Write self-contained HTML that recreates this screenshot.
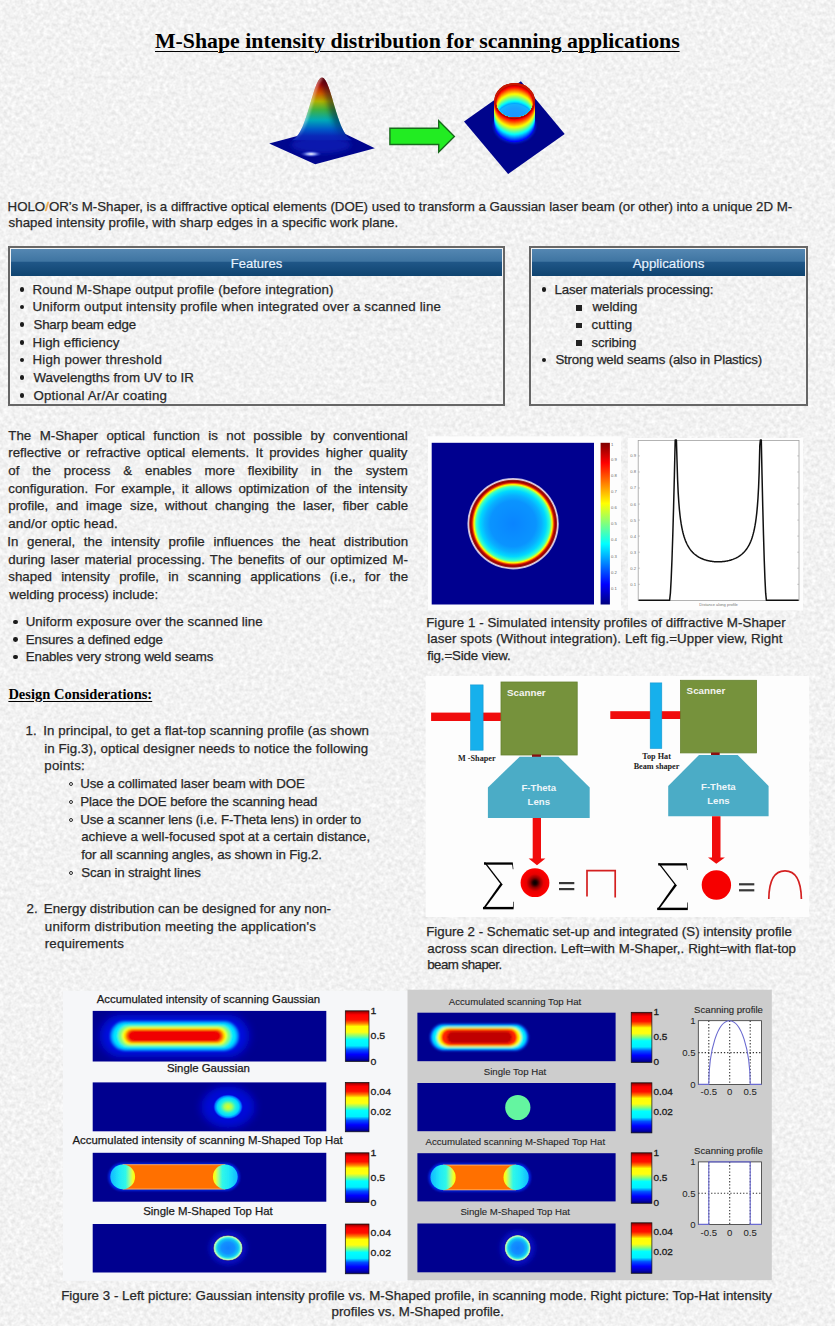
<!DOCTYPE html>
<html><head><meta charset="utf-8"><title>M-Shape</title><style>
*{margin:0;padding:0;box-sizing:border-box}
html,body{width:835px;height:1326px;overflow:hidden}
body{position:relative;background:#f0f0f0;font-family:"Liberation Sans",sans-serif;color:#333}
.l{position:absolute;white-space:nowrap;color:#282828;-webkit-text-stroke:0.25px #282828}
.j{white-space:normal;text-align:justify;text-align-last:justify}
.c{text-align:center}
.title{position:absolute;white-space:nowrap;font-family:"Liberation Serif",serif;font-weight:bold;color:#000;text-decoration:underline;text-decoration-thickness:1.4px;text-underline-offset:0.15em}
.dot{position:absolute;border-radius:50%}
.box{position:absolute;border:2px solid #666;box-shadow:inset 0 0 0 1px #f4f4f4}
.hdr{position:absolute;background:linear-gradient(#5487b2 0%,#3f75a2 45%,#1f5687 50%,#0f4470 100%)}
.hdrt{color:#e6f2ff;text-align:center;-webkit-text-stroke:0.2px #e6f2ff}
svg{position:absolute;overflow:visible}
</style></head><body>
<svg width="835" height="1326" style="left:0;top:0"><filter id="nz" x="0" y="0" width="100%" height="100%"><feTurbulence type="fractalNoise" baseFrequency="0.25" numOctaves="3" seed="7"/><feColorMatrix type="matrix" values="0.32 0 0 0 0.728  0.32 0 0 0 0.728  0.32 0 0 0 0.728  0 0 0 0 1"/></filter><rect width="835" height="1326" filter="url(#nz)"/></svg>
<svg width="835" height="1326" viewBox="0 0 835 1326" style="left:0;top:0" font-family="Liberation Sans"><defs><linearGradient id="jetv" x1="0" y1="0" x2="0" y2="1"><stop offset="0.000" stop-color="#7f0000"/><stop offset="0.062" stop-color="#bf0000"/><stop offset="0.125" stop-color="#ff0000"/><stop offset="0.188" stop-color="#ff3f00"/><stop offset="0.250" stop-color="#ff7f00"/><stop offset="0.312" stop-color="#ffbf00"/><stop offset="0.375" stop-color="#ffff00"/><stop offset="0.438" stop-color="#bfff3f"/><stop offset="0.500" stop-color="#7fff7f"/><stop offset="0.562" stop-color="#3fffbf"/><stop offset="0.625" stop-color="#00ffff"/><stop offset="0.688" stop-color="#00bfff"/><stop offset="0.750" stop-color="#007fff"/><stop offset="0.812" stop-color="#003fff"/><stop offset="0.875" stop-color="#0000ff"/><stop offset="0.938" stop-color="#0000bf"/><stop offset="1.000" stop-color="#00007f"/></linearGradient><linearGradient id="jetc" x1="0" y1="0" x2="0" y2="1"><stop offset="0" stop-color="#700000"/><stop offset="0.035" stop-color="#c00000"/><stop offset="0.08" stop-color="#ff0000"/><stop offset="0.18" stop-color="#ff1000"/><stop offset="0.25" stop-color="#ff8000"/><stop offset="0.31" stop-color="#ffff00"/><stop offset="0.42" stop-color="#ffff10"/><stop offset="0.5" stop-color="#80ff80"/><stop offset="0.57" stop-color="#00ffff"/><stop offset="0.69" stop-color="#00f0ff"/><stop offset="0.77" stop-color="#0050ff"/><stop offset="0.86" stop-color="#0000ff"/><stop offset="0.94" stop-color="#0000c0"/><stop offset="1" stop-color="#000070"/></linearGradient><linearGradient id="bell" x1="0" y1="77" x2="0" y2="142.5" gradientUnits="userSpaceOnUse"><stop offset="0" stop-color="#7a0000"/><stop offset="0.12" stop-color="#b80a00"/><stop offset="0.25" stop-color="#d05a00"/><stop offset="0.37" stop-color="#b0b000"/><stop offset="0.5" stop-color="#40b040"/><stop offset="0.66" stop-color="#00a8b8"/><stop offset="0.8" stop-color="#0058c8"/><stop offset="0.9" stop-color="#0a28b8"/><stop offset="1" stop-color="#0a1cb4"/></linearGradient><linearGradient id="bellmg" x1="0" y1="120" x2="0" y2="141" gradientUnits="userSpaceOnUse"><stop offset="0" stop-color="#fff"/><stop offset="1" stop-color="#000"/></linearGradient><mask id="bellmask" maskUnits="userSpaceOnUse" x="250" y="60" width="150" height="120"><rect x="250" y="60" width="150" height="120" fill="url(#bellmg)"/></mask><linearGradient id="bellsh" x1="296" y1="0" x2="347" y2="0" gradientUnits="userSpaceOnUse"><stop offset="0" stop-color="#fff" stop-opacity="0.35"/><stop offset="0.3" stop-color="#fff" stop-opacity="0"/><stop offset="0.6" stop-color="#000" stop-opacity="0"/><stop offset="1" stop-color="#000" stop-opacity="0.5"/></linearGradient><radialGradient id="glint"><stop offset="0" stop-color="#ffffff"/><stop offset="0.4" stop-color="#a0b0ff" stop-opacity="0.8"/><stop offset="1" stop-color="#2030d0" stop-opacity="0"/></radialGradient><linearGradient id="ringin" x1="0" y1="84" x2="0" y2="118" gradientUnits="userSpaceOnUse"><stop offset="0" stop-color="#c01000"/><stop offset="0.15" stop-color="#e83000"/><stop offset="0.24" stop-color="#ff8000"/><stop offset="0.32" stop-color="#ffd000"/><stop offset="0.4" stop-color="#a0ff60"/><stop offset="0.48" stop-color="#20f0f0"/><stop offset="0.58" stop-color="#10c0ff"/><stop offset="0.75" stop-color="#20a8ff"/><stop offset="1" stop-color="#2898ff"/></linearGradient><radialGradient id="spot1" cx="513.1" cy="523.7" r="45.7" gradientUnits="userSpaceOnUse"><stop offset="0" stop-color="#0a84ff"/><stop offset="0.5" stop-color="#0a94ff"/><stop offset="0.62" stop-color="#08b0ff"/><stop offset="0.72" stop-color="#00d8ff"/><stop offset="0.8" stop-color="#30ffd0"/><stop offset="0.83" stop-color="#90ff70"/><stop offset="0.855" stop-color="#ffff00"/><stop offset="0.875" stop-color="#ff9000"/><stop offset="0.9" stop-color="#d01000"/><stop offset="0.93" stop-color="#900000"/><stop offset="0.95" stop-color="#a02020"/><stop offset="0.97" stop-color="#e8d0dc"/><stop offset="1" stop-color="#b0b0e0"/></radialGradient><radialGradient id="mspot"><stop offset="0" stop-color="#000"/><stop offset="0.15" stop-color="#200000"/><stop offset="0.35" stop-color="#900000"/><stop offset="0.6" stop-color="#e80000"/><stop offset="1" stop-color="#ff0000"/></radialGradient><radialGradient id="gspot"><stop offset="0" stop-color="#e0ff20"/><stop offset="0.25" stop-color="#a0ff60"/><stop offset="0.5" stop-color="#20f0e0"/><stop offset="0.72" stop-color="#00d8ff"/><stop offset="0.88" stop-color="#0070ff"/><stop offset="1" stop-color="#0020ff" stop-opacity="0"/></radialGradient><radialGradient id="mspot3"><stop offset="0" stop-color="#1080ff"/><stop offset="0.45" stop-color="#1290ff"/><stop offset="0.7" stop-color="#10c0f8"/><stop offset="0.82" stop-color="#40f0e0"/><stop offset="0.9" stop-color="#b8ffc8"/><stop offset="0.96" stop-color="#a0d0a0"/><stop offset="1" stop-color="#503070"/></radialGradient><linearGradient id="capL" x1="0" y1="0" x2="1" y2="0"><stop offset="0" stop-color="#10b8ff"/><stop offset="0.35" stop-color="#20e8f8"/><stop offset="0.62" stop-color="#30f8e8"/><stop offset="0.78" stop-color="#a0ff90"/><stop offset="0.9" stop-color="#f0ff30"/><stop offset="1" stop-color="#ffff00"/></linearGradient><linearGradient id="capR" x1="1" y1="0" x2="0" y2="0"><stop offset="0" stop-color="#10b8ff"/><stop offset="0.35" stop-color="#20e8f8"/><stop offset="0.62" stop-color="#30f8e8"/><stop offset="0.78" stop-color="#a0ff90"/><stop offset="0.9" stop-color="#f0ff30"/><stop offset="1" stop-color="#ffff00"/></linearGradient><filter id="b1" x="-50%" y="-50%" width="200%" height="200%"><feGaussianBlur stdDeviation="1.2"/></filter><filter id="b2" x="-50%" y="-50%" width="200%" height="200%"><feGaussianBlur stdDeviation="2.5"/></filter><filter id="b3" x="-50%" y="-50%" width="200%" height="200%"><feGaussianBlur stdDeviation="4"/></filter><filter id="b05" x="-50%" y="-50%" width="200%" height="200%"><feGaussianBlur stdDeviation="0.6"/></filter></defs><polygon points="269.2,143.4 331,127 374.8,148.2 315.2,164.2" fill="#00068e"/><ellipse cx="321" cy="145" rx="30" ry="8.5" fill="#0a1cb4" opacity="0.85" filter="url(#b2)"/><path d="M292.00,140.21 L292.75,139.79 L293.50,139.32 L294.25,138.78 L295.00,138.17 L295.75,137.48 L296.50,136.70 L297.25,135.83 L298.00,134.85 L298.75,133.78 L299.50,132.59 L300.25,131.29 L301.00,129.87 L301.75,128.34 L302.50,126.68 L303.25,124.90 L304.00,123.00 L304.75,120.99 L305.50,118.86 L306.25,116.64 L307.00,114.33 L307.75,111.94 L308.50,109.48 L309.25,106.97 L310.00,104.43 L310.75,101.89 L311.50,99.35 L312.25,96.84 L313.00,94.39 L313.75,92.02 L314.50,89.76 L315.25,87.62 L316.00,85.64 L316.75,83.83 L317.50,82.21 L318.25,80.81 L319.00,79.64 L319.75,78.71 L320.50,78.04 L321.25,77.64 L322.00,77.50 L322.75,77.64 L323.50,78.04 L324.25,78.71 L325.00,79.64 L325.75,80.81 L326.50,82.21 L327.25,83.83 L328.00,85.64 L328.75,87.62 L329.50,89.76 L330.25,92.02 L331.00,94.39 L331.75,96.84 L332.50,99.35 L333.25,101.89 L334.00,104.43 L334.75,106.97 L335.50,109.48 L336.25,111.94 L337.00,114.33 L337.75,116.64 L338.50,118.86 L339.25,120.99 L340.00,123.00 L340.75,124.90 L341.50,126.68 L342.25,128.34 L343.00,129.87 L343.75,131.29 L344.50,132.59 L345.25,133.78 L346.00,134.85 L346.75,135.83 L347.50,136.70 L348.25,137.48 L349.00,138.17 L349.75,138.78 L350.50,139.32 L351.25,139.79 L352.00,140.21 Z" fill="url(#bell)"/><clipPath id="bellclip"><path d="M292.00,140.21 L292.75,139.79 L293.50,139.32 L294.25,138.78 L295.00,138.17 L295.75,137.48 L296.50,136.70 L297.25,135.83 L298.00,134.85 L298.75,133.78 L299.50,132.59 L300.25,131.29 L301.00,129.87 L301.75,128.34 L302.50,126.68 L303.25,124.90 L304.00,123.00 L304.75,120.99 L305.50,118.86 L306.25,116.64 L307.00,114.33 L307.75,111.94 L308.50,109.48 L309.25,106.97 L310.00,104.43 L310.75,101.89 L311.50,99.35 L312.25,96.84 L313.00,94.39 L313.75,92.02 L314.50,89.76 L315.25,87.62 L316.00,85.64 L316.75,83.83 L317.50,82.21 L318.25,80.81 L319.00,79.64 L319.75,78.71 L320.50,78.04 L321.25,77.64 L322.00,77.50 L322.75,77.64 L323.50,78.04 L324.25,78.71 L325.00,79.64 L325.75,80.81 L326.50,82.21 L327.25,83.83 L328.00,85.64 L328.75,87.62 L329.50,89.76 L330.25,92.02 L331.00,94.39 L331.75,96.84 L332.50,99.35 L333.25,101.89 L334.00,104.43 L334.75,106.97 L335.50,109.48 L336.25,111.94 L337.00,114.33 L337.75,116.64 L338.50,118.86 L339.25,120.99 L340.00,123.00 L340.75,124.90 L341.50,126.68 L342.25,128.34 L343.00,129.87 L343.75,131.29 L344.50,132.59 L345.25,133.78 L346.00,134.85 L346.75,135.83 L347.50,136.70 L348.25,137.48 L349.00,138.17 L349.75,138.78 L350.50,139.32 L351.25,139.79 L352.00,140.21 Z"/></clipPath><g clip-path="url(#bellclip)" mask="url(#bellmask)"><path d="M322.00,77.50 L322.75,77.64 L323.50,78.04 L324.25,78.71 L325.00,79.64 L325.75,80.81 L326.50,82.21 L327.25,83.83 L328.00,85.64 L328.75,87.62 L329.50,89.76 L330.25,92.02 L331.00,94.39 L331.75,96.84 L332.50,99.35 L333.25,101.89 L334.00,104.43 L334.75,106.97 L335.50,109.48 L336.25,111.94 L337.00,114.33 L337.75,116.64 L338.50,118.86 L339.25,120.99 L340.00,123.00 L340.75,124.90 L341.50,126.68 L342.25,128.34 L343.00,129.87 L343.75,131.29 L344.50,132.59 L345.25,133.78 L346.00,134.85 L346.75,135.83 L347.50,136.70 L348.25,137.48 L349.00,138.17 L349.75,138.78 L350.50,139.32 L351.25,139.79 L352.00,140.21" fill="none" stroke="#000020" stroke-opacity="0.45" stroke-width="12" filter="url(#b2)"/><path d="M292.00,140.21 L292.75,139.79 L293.50,139.32 L294.25,138.78 L295.00,138.17 L295.75,137.48 L296.50,136.70 L297.25,135.83 L298.00,134.85 L298.75,133.78 L299.50,132.59 L300.25,131.29 L301.00,129.87 L301.75,128.34 L302.50,126.68 L303.25,124.90 L304.00,123.00 L304.75,120.99 L305.50,118.86 L306.25,116.64 L307.00,114.33 L307.75,111.94 L308.50,109.48 L309.25,106.97 L310.00,104.43 L310.75,101.89 L311.50,99.35 L312.25,96.84 L313.00,94.39 L313.75,92.02 L314.50,89.76 L315.25,87.62 L316.00,85.64 L316.75,83.83 L317.50,82.21 L318.25,80.81 L319.00,79.64 L319.75,78.71 L320.50,78.04 L321.25,77.64 L322.00,77.50" fill="none" stroke="#ffffff" stroke-opacity="0.35" stroke-width="5" filter="url(#b1)"/></g><ellipse cx="311" cy="154" rx="11" ry="3.3" fill="url(#glint)"/><polygon points="389.9,128.2 438.7,128.2 438.7,120.8 454.4,136.4 438.7,152 438.7,144.5 389.9,144.5" fill="#22ec22" stroke="#186a1c" stroke-width="1.4" stroke-linejoin="miter"/><polygon points="520.9,81.2 564.7,134 508.1,174.1 464,121.4" fill="#00048c"/><ellipse cx="514.6" cy="125.6" rx="21.2" ry="17.6" fill="#0030ff" opacity="0.6" filter="url(#b1)"/><ellipse cx="514.6" cy="124.6" rx="20.2" ry="17.6" fill="#0000f9"/><ellipse cx="514.6" cy="123.6" rx="20.2" ry="17.6" fill="#001eff"/><ellipse cx="514.6" cy="122.6" rx="20.2" ry="17.6" fill="#0041ff"/><ellipse cx="514.6" cy="121.6" rx="20.2" ry="17.6" fill="#0064ff"/><ellipse cx="514.6" cy="120.6" rx="20.2" ry="17.6" fill="#0087ff"/><ellipse cx="514.6" cy="119.6" rx="20.2" ry="17.6" fill="#00abff"/><ellipse cx="514.6" cy="118.6" rx="20.2" ry="17.6" fill="#00ceff"/><ellipse cx="514.6" cy="117.6" rx="20.2" ry="17.6" fill="#00f1ff"/><ellipse cx="514.6" cy="116.6" rx="20.2" ry="17.6" fill="#16ffe8"/><ellipse cx="514.6" cy="115.6" rx="20.2" ry="17.6" fill="#39ffc5"/><ellipse cx="514.6" cy="114.6" rx="20.2" ry="17.6" fill="#5cffa2"/><ellipse cx="514.6" cy="113.6" rx="20.2" ry="17.6" fill="#7fff7f"/><ellipse cx="514.6" cy="112.6" rx="20.2" ry="17.6" fill="#a3ff5b"/><ellipse cx="514.6" cy="111.6" rx="20.2" ry="17.6" fill="#c6ff38"/><ellipse cx="514.6" cy="110.6" rx="20.2" ry="17.6" fill="#e9ff15"/><ellipse cx="514.6" cy="109.6" rx="20.2" ry="17.6" fill="#fff000"/><ellipse cx="514.6" cy="108.6" rx="20.2" ry="17.6" fill="#ffcd00"/><ellipse cx="514.6" cy="107.6" rx="20.2" ry="17.6" fill="#ffaa00"/><ellipse cx="514.6" cy="106.6" rx="20.2" ry="17.6" fill="#ff8700"/><ellipse cx="514.6" cy="105.6" rx="20.2" ry="17.6" fill="#ff6300"/><ellipse cx="514.6" cy="104.6" rx="20.2" ry="17.6" fill="#ff4000"/><ellipse cx="514.6" cy="103.6" rx="20.2" ry="17.6" fill="#ff1d00"/><ellipse cx="514.6" cy="102.6" rx="20.2" ry="17.6" fill="#f90000"/><ellipse cx="514.6" cy="101.6" rx="20.2" ry="17.6" fill="#a80000"/><ellipse cx="514.6" cy="100.6" rx="20.2" ry="17.6" fill="#a80000"/><ellipse cx="514.6" cy="100.6" rx="20.2" ry="17.6" fill="#c81800"/><clipPath id="inclip"><ellipse cx="514.6" cy="101.0" rx="18.4" ry="16.1"/></clipPath><g clip-path="url(#inclip)"><ellipse cx="514.6" cy="101.0" rx="18.4" ry="16.1" fill="#c60000"/><ellipse cx="514.6" cy="102.0" rx="18.4" ry="16.1" fill="#eb0000"/><ellipse cx="514.6" cy="103.0" rx="18.4" ry="16.1" fill="#ff1000"/><ellipse cx="514.6" cy="104.0" rx="18.4" ry="16.1" fill="#ff3400"/><ellipse cx="514.6" cy="105.0" rx="18.4" ry="16.1" fill="#ff5800"/><ellipse cx="514.6" cy="106.0" rx="18.4" ry="16.1" fill="#ff7d00"/><ellipse cx="514.6" cy="107.0" rx="18.4" ry="16.1" fill="#ffa100"/><ellipse cx="514.6" cy="108.0" rx="18.4" ry="16.1" fill="#ffc500"/><ellipse cx="514.6" cy="109.0" rx="18.4" ry="16.1" fill="#ffea00"/><ellipse cx="514.6" cy="110.0" rx="18.4" ry="16.1" fill="#efff0f"/><ellipse cx="514.6" cy="111.0" rx="18.4" ry="16.1" fill="#cbff33"/><ellipse cx="514.6" cy="112.0" rx="18.4" ry="16.1" fill="#a7ff57"/><ellipse cx="514.6" cy="113.0" rx="18.4" ry="16.1" fill="#82ff7c"/><ellipse cx="514.6" cy="114.0" rx="18.4" ry="16.1" fill="#5effa0"/><ellipse cx="514.6" cy="115.0" rx="18.4" ry="16.1" fill="#3affc4"/><ellipse cx="514.6" cy="116.0" rx="18.4" ry="16.1" fill="#16ffe8"/><ellipse cx="514.6" cy="117.0" rx="18.4" ry="16.1" fill="#00f0ff"/><ellipse cx="514.6" cy="118.0" rx="18.4" ry="16.1" fill="#00ccff"/><ellipse cx="514.6" cy="119.0" rx="18.4" ry="16.1" fill="#00a8ff"/><radialGradient id="floorg" cx="514.6" cy="121.0" r="18.4" gradientUnits="userSpaceOnUse"><stop offset="0" stop-color="#2090ff"/><stop offset="0.7" stop-color="#1aa0ff"/><stop offset="1" stop-color="#10b8ff"/></radialGradient><ellipse cx="514.6" cy="120.0" rx="18.4" ry="16.1" fill="url(#floorg)"/></g><rect x="428" y="436.3" width="193" height="174" fill="#fdfdfd"/><rect x="628" y="438" width="175" height="172.4" fill="#fdfdfd"/><rect x="431.7" y="442.8" width="162.3" height="161.7" fill="#00008f"/><circle cx="513.1" cy="523.7" r="45.7" fill="url(#spot1)"/><rect x="600.6" y="442.8" width="9.3" height="161.7" fill="url(#jetv)"/><text x="611" y="589.8" font-size="4.2" fill="#666">0.1</text><text x="611" y="573.7" font-size="4.2" fill="#666">0.2</text><text x="611" y="557.5" font-size="4.2" fill="#666">0.3</text><text x="611" y="541.3" font-size="4.2" fill="#666">0.4</text><text x="611" y="525.1" font-size="4.2" fill="#666">0.5</text><text x="611" y="509.0" font-size="4.2" fill="#666">0.6</text><text x="611" y="492.8" font-size="4.2" fill="#666">0.7</text><text x="611" y="476.6" font-size="4.2" fill="#666">0.8</text><text x="611" y="460.5" font-size="4.2" fill="#666">0.9</text><text x="611" y="446" font-size="4.2" fill="#666">1</text><rect x="638.2" y="440.4" width="160.8" height="160" fill="#fff" stroke="#a0a0a0" stroke-width="0.8"/><text x="636" y="585.7" font-size="4.2" fill="#707070" text-anchor="end">0.1</text><line x1="638.2" y1="584.3" x2="640" y2="584.3" stroke="#999" stroke-width="0.5"/><line x1="797.2" y1="584.3" x2="799" y2="584.3" stroke="#999" stroke-width="0.5"/><text x="636" y="569.6" font-size="4.2" fill="#707070" text-anchor="end">0.2</text><line x1="638.2" y1="568.2" x2="640" y2="568.2" stroke="#999" stroke-width="0.5"/><line x1="797.2" y1="568.2" x2="799" y2="568.2" stroke="#999" stroke-width="0.5"/><text x="636" y="553.6" font-size="4.2" fill="#707070" text-anchor="end">0.3</text><line x1="638.2" y1="552.2" x2="640" y2="552.2" stroke="#999" stroke-width="0.5"/><line x1="797.2" y1="552.2" x2="799" y2="552.2" stroke="#999" stroke-width="0.5"/><text x="636" y="537.5" font-size="4.2" fill="#707070" text-anchor="end">0.4</text><line x1="638.2" y1="536.1" x2="640" y2="536.1" stroke="#999" stroke-width="0.5"/><line x1="797.2" y1="536.1" x2="799" y2="536.1" stroke="#999" stroke-width="0.5"/><text x="636" y="521.5" font-size="4.2" fill="#707070" text-anchor="end">0.5</text><line x1="638.2" y1="520.1" x2="640" y2="520.1" stroke="#999" stroke-width="0.5"/><line x1="797.2" y1="520.1" x2="799" y2="520.1" stroke="#999" stroke-width="0.5"/><text x="636" y="505.5" font-size="4.2" fill="#707070" text-anchor="end">0.6</text><line x1="638.2" y1="504.1" x2="640" y2="504.1" stroke="#999" stroke-width="0.5"/><line x1="797.2" y1="504.1" x2="799" y2="504.1" stroke="#999" stroke-width="0.5"/><text x="636" y="489.4" font-size="4.2" fill="#707070" text-anchor="end">0.7</text><line x1="638.2" y1="488.0" x2="640" y2="488.0" stroke="#999" stroke-width="0.5"/><line x1="797.2" y1="488.0" x2="799" y2="488.0" stroke="#999" stroke-width="0.5"/><text x="636" y="473.4" font-size="4.2" fill="#707070" text-anchor="end">0.8</text><line x1="638.2" y1="472.0" x2="640" y2="472.0" stroke="#999" stroke-width="0.5"/><line x1="797.2" y1="472.0" x2="799" y2="472.0" stroke="#999" stroke-width="0.5"/><text x="636" y="457.3" font-size="4.2" fill="#707070" text-anchor="end">0.9</text><line x1="638.2" y1="455.9" x2="640" y2="455.9" stroke="#999" stroke-width="0.5"/><line x1="797.2" y1="455.9" x2="799" y2="455.9" stroke="#999" stroke-width="0.5"/><text x="718.6" y="605.6" font-size="4" fill="#777" text-anchor="middle">Distance along profile</text><path d="M638.60,600.30 L669.60,600.30 L670.40,593.17 L671.20,578.69 L672.00,558.95 L672.80,534.78 L673.60,506.67 L674.40,474.96 L675.20,439.90 L675.80,439.90 L676.40,439.90 L677.00,460.15 L677.60,479.85 L678.20,492.89 L678.80,502.32 L679.40,509.54 L680.00,515.28 L680.60,519.99 L681.20,523.94 L681.80,527.30 L682.40,530.21 L683.00,532.76 L683.60,535.01 L684.20,537.02 L684.80,538.82 L685.40,540.45 L686.00,541.92 L686.60,543.27 L687.20,544.51 L687.80,545.65 L688.40,546.70 L689.00,547.68 L689.60,548.58 L690.20,549.42 L690.80,550.21 L691.40,550.94 L692.00,551.63 L692.60,552.27 L693.20,552.88 L693.80,553.45 L694.40,553.99 L695.00,554.49 L695.60,554.97 L696.20,555.42 L696.80,555.85 L697.40,556.25 L698.00,556.63 L698.60,556.99 L699.20,557.34 L699.80,557.66 L700.40,557.97 L701.00,558.26 L701.60,558.53 L702.20,558.79 L702.80,559.04 L703.40,559.27 L704.00,559.49 L704.60,559.69 L705.20,559.89 L705.80,560.07 L706.40,560.25 L707.00,560.41 L707.60,560.56 L708.20,560.70 L708.80,560.83 L709.40,560.96 L710.00,561.07 L710.60,561.18 L711.20,561.27 L711.80,561.36 L712.40,561.44 L713.00,561.51 L713.60,561.58 L714.20,561.63 L714.80,561.68 L715.40,561.72 L716.00,561.75 L716.60,561.78 L717.20,561.79 L717.80,561.80 L718.40,561.80 L719.00,561.80 L719.60,561.78 L720.20,561.76 L720.80,561.74 L721.40,561.70 L722.00,561.66 L722.60,561.60 L723.20,561.55 L723.80,561.48 L724.40,561.40 L725.00,561.32 L725.60,561.23 L726.20,561.13 L726.80,561.02 L727.40,560.90 L728.00,560.77 L728.60,560.63 L729.20,560.49 L729.80,560.33 L730.40,560.16 L731.00,559.98 L731.60,559.79 L732.20,559.59 L732.80,559.38 L733.40,559.15 L734.00,558.91 L734.60,558.66 L735.20,558.39 L735.80,558.11 L736.40,557.81 L737.00,557.50 L737.60,557.17 L738.20,556.82 L738.80,556.45 L739.40,556.05 L740.00,555.64 L740.60,555.20 L741.20,554.74 L741.80,554.24 L742.40,553.72 L743.00,553.17 L743.60,552.58 L744.20,551.96 L744.80,551.29 L745.40,550.58 L746.00,549.82 L746.60,549.01 L747.20,548.14 L747.80,547.20 L748.40,546.19 L749.00,545.09 L749.60,543.91 L750.20,542.61 L750.80,541.20 L751.40,539.65 L752.00,537.94 L752.60,536.04 L753.20,533.92 L753.80,531.52 L754.40,528.81 L755.00,525.68 L755.60,522.05 L756.20,517.75 L756.80,512.56 L757.40,506.15 L758.00,497.95 L758.60,486.95 L759.20,471.15 L759.80,445.63 L760.40,439.90 L761.30,439.90 L762.03,474.96 L762.76,506.67 L763.49,534.78 L764.21,558.95 L764.94,578.69 L765.67,593.17 L766.40,600.30 L798.60,600.30" fill="none" stroke="#111" stroke-width="1.5" stroke-linejoin="round"/><rect x="425.6" y="676" width="383.6" height="241" fill="#fdfdfd"/><rect x="431.1" y="712.6" width="69.9" height="8.4" fill="#f00c0c"/><rect x="470.6" y="684.9" width="12.5" height="65.3" fill="#16b0ec" stroke="#1498d0" stroke-width="0.6"/><rect x="501" y="682" width="76.2" height="73.0" fill="#76923c" stroke="#66822f" stroke-width="0.8"/><text x="507" y="695.5" font-size="9.8" font-weight="bold" fill="#f4f4f0">Scanner</text><rect x="610.3" y="711.2" width="70.7" height="7.8" fill="#f00c0c"/><rect x="650.2" y="682.9" width="11.6" height="65.6" fill="#16b0ec" stroke="#1498d0" stroke-width="0.6"/><rect x="680.6" y="680.3" width="75.9" height="72.6" fill="#76923c" stroke="#66822f" stroke-width="0.8"/><text x="686.6" y="693.8" font-size="9.8" font-weight="bold" fill="#f4f4f0">Scanner</text><rect x="532" y="754.5" width="9" height="3" fill="#8b1010"/><rect x="711" y="752.5" width="8.7" height="3" fill="#8b1010"/><polygon points="519.7,756.7 558.5,756.7 589.7,787.4 589.7,818 487.9,818 487.9,787.4" fill="#4bacc6"/><polygon points="699,755 737.7,755 768.6,785.9 768.6,816.2 668.2,816.2 668.2,785.9" fill="#4bacc6"/><text x="538.8" y="791.2" font-size="9.6" font-weight="bold" fill="#eef6fa" text-anchor="middle">F-Theta</text><text x="538.8" y="805.2" font-size="9.6" font-weight="bold" fill="#eef6fa" text-anchor="middle">Lens</text><text x="718.4" y="790.2" font-size="9.6" font-weight="bold" fill="#eef6fa" text-anchor="middle">F-Theta</text><text x="718.4" y="804.4" font-size="9.6" font-weight="bold" fill="#eef6fa" text-anchor="middle">Lens</text><polygon points="532.7,818 541,818 541,858.5 545.4,858.5 537,865.3 528.6,858.5 532.7,858.5" fill="#f00c0c"/><polygon points="712,816.2 720.5,816.2 720.5,857.5 724.9,857.5 716.3,863.8 708,857.5 712,857.5" fill="#f00c0c"/><text x="476.8" y="760.6" font-size="8.2" font-family="Liberation Serif" font-weight="bold" fill="#222" text-anchor="middle">M -Shaper</text><text x="656.6" y="758.8" font-size="8.2" font-family="Liberation Serif" font-weight="bold" fill="#222" text-anchor="middle">Top Hat</text><text x="656.5" y="769.1" font-size="8.2" font-family="Liberation Serif" font-weight="bold" fill="#222" text-anchor="middle">Beam shaper</text><g fill="#000" stroke="none"><rect x="484" y="862.4" width="28.8" height="2.3"/><rect x="483" y="906.9" width="30.6" height="2.4"/><polygon points="484,862.6 485.6,862.6 502.6,884.6 501.4,885.2"/><polygon points="500.4,883.4 502.6,884.6 485.8,907.2 482.8,908.6"/><polygon points="512,863.5 512.9,863.5 513.4,869.2 512.8,869.2"/><polygon points="512.9,907.5 513.6,907.5 513.8,901.8 513.2,901.8"/></g><g fill="#000" stroke="none"><rect x="658.2" y="863.1999999999999" width="28.8" height="2.3"/><rect x="657.2" y="907.6999999999999" width="30.6" height="2.4"/><polygon points="658.2,863.4 659.8000000000001,863.4 676.8000000000001,885.4 675.6,886.0"/><polygon points="674.6,884.1999999999999 676.8000000000001,885.4 660.0,908.0 657.0,909.4"/><polygon points="686.2,864.3 687.1,864.3 687.6,870.0 687.0,870.0"/><polygon points="687.1,908.3 687.8000000000001,908.3 688.0,902.5999999999999 687.4000000000001,902.5999999999999"/></g><circle cx="535" cy="882.7" r="14.4" fill="url(#mspot)"/><circle cx="716.4" cy="885" r="14.7" fill="#f60000"/><rect x="559" y="882" width="15.3" height="2.2" fill="#383838"/><rect x="559" y="888" width="15.3" height="2.2" fill="#383838"/><rect x="739" y="883.2" width="15.3" height="2.2" fill="#383838"/><rect x="739" y="889.2" width="15.3" height="2.2" fill="#383838"/><path d="M587,896.5 L587,870.7 L615.2,870.7 L615.2,897.5" fill="none" stroke="#d42020" stroke-width="1.7"/><path d="M768.8,899 C769,876 777,870.8 785,870.8 C793,870.8 801,876 801.4,899" fill="none" stroke="#d42020" stroke-width="1.7"/><rect x="63" y="990.8" width="345" height="290" fill="#f6f7f9"/><rect x="407.5" y="989.7" width="364.3" height="290.5" fill="#cdcdcd"/><text x="208.4" y="1002.8" font-size="11.4" fill="#1a1a1a" stroke="#1a1a1a" stroke-width="0.25" text-anchor="middle">Accumulated intensity of scanning Gaussian</text><text x="208.4" y="1072.2" font-size="11.4" fill="#1a1a1a" stroke="#1a1a1a" stroke-width="0.25" text-anchor="middle">Single Gaussian</text><text x="207.6" y="1143.5" font-size="11.4" fill="#1a1a1a" stroke="#1a1a1a" stroke-width="0.25" text-anchor="middle">Accumulated intensity of scanning M-Shaped Top Hat</text><text x="208.0" y="1214.7" font-size="11.4" fill="#1a1a1a" stroke="#1a1a1a" stroke-width="0.25" text-anchor="middle">Single M-Shaped Top Hat</text><rect x="92.7" y="1010.9" width="233.6" height="50.6" fill="#00008f"/><rect x="92.7" y="1082.4" width="233.6" height="48.9" fill="#00008f"/><rect x="92.7" y="1152.8" width="233.6" height="48.9" fill="#00008f"/><rect x="92.7" y="1224.0" width="233.6" height="48.5" fill="#00008f"/><clipPath id="cg1"><rect x="92.7" y="1010.9" width="233.6" height="50.6"/></clipPath><g clip-path="url(#cg1)"><rect x="100.0" y="1015.0" width="149.0" height="42.0" rx="21.0" fill="#0010e0" filter="url(#b3)"/><g filter="url(#b1)"><rect x="110.0" y="1021.0" width="129.0" height="30.0" rx="15.0" fill="#0090ff" /><rect x="113.0" y="1023.2" width="123.0" height="25.5" rx="12.8" fill="#00e8ff" /><rect x="118.0" y="1025.5" width="113.0" height="21.0" rx="10.5" fill="#80ff80" /><rect x="122.0" y="1027.2" width="105.0" height="17.5" rx="8.8" fill="#ffff00" /><rect x="125.0" y="1029.0" width="99.0" height="14.0" rx="7.0" fill="#ff8000" /><rect x="127.5" y="1030.2" width="94.0" height="11.6" rx="5.8" fill="#f00000" /></g></g><clipPath id="cg2"><rect x="92.7" y="1082.4" width="233.6" height="48.9"/></clipPath><g clip-path="url(#cg2)"><ellipse cx="228" cy="1107" rx="27" ry="21" fill="#0008f0" opacity="0.75" filter="url(#b3)"/></g><ellipse cx="228.1" cy="1106.8" rx="15" ry="12.5" fill="url(#gspot)"/><rect x="108.3" y="1162.9" width="131.4" height="27.9" rx="13.9" fill="#0030ff" filter="url(#b1)" opacity="0.8"/><rect x="122.7" y="1164.4" width="102.5" height="24.9" fill="#ff7000"/><path d="M122.7,1164.7 L225.3,1164.7 M122.7,1189.0 L225.3,1189.0" stroke="#ffc080" stroke-width="0.7"/><circle cx="122.7" cy="1176.8" r="12.4" fill="url(#capL)" filter="url(#b05)"/><circle cx="225.3" cy="1176.8" r="12.4" fill="url(#capR)" filter="url(#b05)"/><ellipse cx="228" cy="1248" rx="19" ry="17" fill="#0818e0" opacity="0.6" filter="url(#b2)"/><ellipse cx="228" cy="1248" rx="14.7" ry="12.7" fill="url(#mspot3)"/><rect x="345.3" y="1010.8" width="23.7" height="50.700000000000045" fill="url(#jetc)" stroke="#111" stroke-width="0.7"/><text x="370.6" y="1014.3" font-size="10.5" fill="#1a1a1a" stroke="#1a1a1a" stroke-width="0.3" transform="translate(0 1010.8) scale(1 0.86) translate(0 -1010.8)">1</text><text x="370.6" y="1039.6" font-size="10.5" fill="#1a1a1a" stroke="#1a1a1a" stroke-width="0.3" transform="translate(0 1036.2) scale(1 0.86) translate(0 -1036.2)">0.5</text><text x="370.6" y="1065.0" font-size="10.5" fill="#1a1a1a" stroke="#1a1a1a" stroke-width="0.3" transform="translate(0 1061.5) scale(1 0.86) translate(0 -1061.5)">0</text><rect x="345.3" y="1082.4" width="23.7" height="49.399999999999864" fill="url(#jetc)" stroke="#111" stroke-width="0.7"/><text x="370.6" y="1095.3" font-size="10.5" fill="#1a1a1a" stroke="#1a1a1a" stroke-width="0.3" transform="translate(0 1091.8) scale(1 0.86) translate(0 -1091.8)">0.04</text><text x="370.6" y="1115.0" font-size="10.5" fill="#1a1a1a" stroke="#1a1a1a" stroke-width="0.3" transform="translate(0 1111.5) scale(1 0.86) translate(0 -1111.5)">0.02</text><rect x="345.3" y="1152.8" width="23.7" height="49.700000000000045" fill="url(#jetc)" stroke="#111" stroke-width="0.7"/><text x="370.6" y="1156.3" font-size="10.5" fill="#1a1a1a" stroke="#1a1a1a" stroke-width="0.3" transform="translate(0 1152.8) scale(1 0.86) translate(0 -1152.8)">1</text><text x="370.6" y="1181.1" font-size="10.5" fill="#1a1a1a" stroke="#1a1a1a" stroke-width="0.3" transform="translate(0 1177.7) scale(1 0.86) translate(0 -1177.7)">0.5</text><text x="370.6" y="1206.0" font-size="10.5" fill="#1a1a1a" stroke="#1a1a1a" stroke-width="0.3" transform="translate(0 1202.5) scale(1 0.86) translate(0 -1202.5)">0</text><rect x="345.3" y="1224.0" width="23.7" height="49.799999999999955" fill="url(#jetc)" stroke="#111" stroke-width="0.7"/><text x="370.6" y="1236.9" font-size="10.5" fill="#1a1a1a" stroke="#1a1a1a" stroke-width="0.3" transform="translate(0 1233.5) scale(1 0.86) translate(0 -1233.5)">0.04</text><text x="370.6" y="1256.8" font-size="10.5" fill="#1a1a1a" stroke="#1a1a1a" stroke-width="0.3" transform="translate(0 1253.4) scale(1 0.86) translate(0 -1253.4)">0.02</text><text x="515.0" y="1004.8" font-size="9.65" fill="#262626" stroke="#262626" stroke-width="0.1" text-anchor="middle">Accumulated scanning Top Hat</text><text x="515.0" y="1075.1" font-size="9.65" fill="#262626" stroke="#262626" stroke-width="0.1" text-anchor="middle">Single Top Hat</text><text x="515.3" y="1144.5" font-size="9.65" fill="#262626" stroke="#262626" stroke-width="0.1" text-anchor="middle">Accumulated scanning M-Shaped Top Hat</text><text x="515.2" y="1214.8" font-size="9.65" fill="#262626" stroke="#262626" stroke-width="0.1" text-anchor="middle">Single M-Shaped Top Hat</text><rect x="417.4" y="1012.7" width="198.2" height="48.5" fill="#00008f"/><rect x="417.4" y="1083.0" width="198.2" height="48.2" fill="#00008f"/><rect x="417.4" y="1153.2" width="198.2" height="48.2" fill="#00008f"/><rect x="417.4" y="1223.5" width="198.2" height="48.8" fill="#00008f"/><g filter="url(#b1)"><rect x="430.0" y="1023.7" width="98.5" height="27.0" rx="13.5" fill="#0060ff" /><rect x="432.5" y="1025.5" width="93.5" height="23.5" rx="11.8" fill="#00f0ff" /><rect x="437.0" y="1027.2" width="84.5" height="20.0" rx="10.0" fill="#ffff00" /><rect x="441.0" y="1028.7" width="76.5" height="17.0" rx="8.5" fill="#ff2000" /><rect x="447.0" y="1031.2" width="65.0" height="12.0" rx="6.0" fill="#c00000" /></g><circle cx="517.8" cy="1107.5" r="12.6" fill="#64f5a0"/><rect x="428.5" y="1163.3" width="102.3" height="28.3" rx="14.1" fill="#0030ff" filter="url(#b1)" opacity="0.8"/><rect x="443.1" y="1164.8" width="73.0" height="25.3" fill="#ff7000"/><path d="M443.1,1165.1 L516.1,1165.1 M443.1,1189.8 L516.1,1189.8" stroke="#ffc080" stroke-width="0.7"/><circle cx="443.1" cy="1177.4" r="12.6" fill="url(#capL)" filter="url(#b05)"/><circle cx="516.1" cy="1177.4" r="12.6" fill="url(#capR)" filter="url(#b05)"/><circle cx="517.7" cy="1248" r="17.5" fill="#0818e0" opacity="0.6" filter="url(#b2)"/><circle cx="517.7" cy="1248" r="13.1" fill="url(#mspot3)"/><rect x="631.2" y="1012.3" width="20.7" height="50.100000000000136" fill="url(#jetc)" stroke="#111" stroke-width="0.7"/><text x="653.5" y="1015.6" font-size="10" fill="#1a1a1a" stroke="#1a1a1a" stroke-width="0.3" transform="translate(0 1012.3) scale(1 0.86) translate(0 -1012.3)">1</text><text x="653.5" y="1040.6" font-size="10" fill="#1a1a1a" stroke="#1a1a1a" stroke-width="0.3" transform="translate(0 1037.3) scale(1 0.86) translate(0 -1037.3)">0.5</text><text x="653.5" y="1065.7" font-size="10" fill="#1a1a1a" stroke="#1a1a1a" stroke-width="0.3" transform="translate(0 1062.4) scale(1 0.86) translate(0 -1062.4)">0</text><rect x="631.2" y="1082.8" width="20.7" height="50.100000000000136" fill="url(#jetc)" stroke="#111" stroke-width="0.7"/><text x="653.5" y="1095.4" font-size="10" fill="#1a1a1a" stroke="#1a1a1a" stroke-width="0.3" transform="translate(0 1092.1) scale(1 0.86) translate(0 -1092.1)">0.04</text><text x="653.5" y="1115.7" font-size="10" fill="#1a1a1a" stroke="#1a1a1a" stroke-width="0.3" transform="translate(0 1112.4) scale(1 0.86) translate(0 -1112.4)">0.02</text><rect x="631.2" y="1152.8" width="20.7" height="50.5" fill="url(#jetc)" stroke="#111" stroke-width="0.7"/><text x="653.5" y="1156.1" font-size="10" fill="#1a1a1a" stroke="#1a1a1a" stroke-width="0.3" transform="translate(0 1152.8) scale(1 0.86) translate(0 -1152.8)">1</text><text x="653.5" y="1181.3" font-size="10" fill="#1a1a1a" stroke="#1a1a1a" stroke-width="0.3" transform="translate(0 1178.0) scale(1 0.86) translate(0 -1178.0)">0.5</text><text x="653.5" y="1206.6" font-size="10" fill="#1a1a1a" stroke="#1a1a1a" stroke-width="0.3" transform="translate(0 1203.3) scale(1 0.86) translate(0 -1203.3)">0</text><rect x="631.2" y="1222.8" width="20.7" height="50.5" fill="url(#jetc)" stroke="#111" stroke-width="0.7"/><text x="653.5" y="1235.4" font-size="10" fill="#1a1a1a" stroke="#1a1a1a" stroke-width="0.3" transform="translate(0 1232.1) scale(1 0.86) translate(0 -1232.1)">0.04</text><text x="653.5" y="1255.9" font-size="10" fill="#1a1a1a" stroke="#1a1a1a" stroke-width="0.3" transform="translate(0 1252.6) scale(1 0.86) translate(0 -1252.6)">0.02</text><text x="728.5" y="1013.4" font-size="9.6" fill="#262626" stroke="#262626" stroke-width="0.1" text-anchor="middle">Scanning profile</text><rect x="698.3" y="1020.7" width="63.2" height="63.7" fill="#fff" stroke="#333" stroke-width="0.8"/><line x1="708.8" y1="1020.7" x2="708.8" y2="1084.4" stroke="#333" stroke-width="1.1" stroke-dasharray="1.3 1.9"/><line x1="729.7" y1="1020.7" x2="729.7" y2="1084.4" stroke="#333" stroke-width="1.1" stroke-dasharray="1.3 1.9"/><line x1="750.2" y1="1020.7" x2="750.2" y2="1084.4" stroke="#333" stroke-width="1.1" stroke-dasharray="1.3 1.9"/><line x1="698.3" y1="1052.6" x2="761.5" y2="1052.6" stroke="#333" stroke-width="1.1" stroke-dasharray="1.3 1.9"/><path d="M698.3,1084.4 L708.8,1084.4 A20.7,63.7 0 0 1 750.2,1084.4 L761.5,1084.4" fill="none" stroke="#6a6ad0" stroke-width="1.1"/><text x="695.5" y="1024.1" font-size="9.6" fill="#222" text-anchor="end">1</text><text x="695.5" y="1056.0" font-size="9.6" fill="#222" text-anchor="end">0.5</text><text x="695.5" y="1087.8" font-size="9.6" fill="#222" text-anchor="end">0</text><text x="708.8" y="1095.4" font-size="9.6" fill="#222" text-anchor="middle">-0.5</text><text x="729.7" y="1095.4" font-size="9.6" fill="#222" text-anchor="middle">0</text><text x="750.2" y="1095.4" font-size="9.6" fill="#222" text-anchor="middle">0.5</text><text x="728.5" y="1153.9" font-size="9.6" fill="#262626" stroke="#262626" stroke-width="0.1" text-anchor="middle">Scanning profile</text><rect x="698.3" y="1161.9" width="63.2" height="62.5" fill="#fff" stroke="#333" stroke-width="0.8"/><line x1="708.8" y1="1161.9" x2="708.8" y2="1224.4" stroke="#333" stroke-width="1.1" stroke-dasharray="1.3 1.9"/><line x1="729.7" y1="1161.9" x2="729.7" y2="1224.4" stroke="#333" stroke-width="1.1" stroke-dasharray="1.3 1.9"/><line x1="750.2" y1="1161.9" x2="750.2" y2="1224.4" stroke="#333" stroke-width="1.1" stroke-dasharray="1.3 1.9"/><line x1="698.3" y1="1193.2" x2="761.5" y2="1193.2" stroke="#333" stroke-width="1.1" stroke-dasharray="1.3 1.9"/><path d="M698.3,1224.4 L708.8,1224.4 L708.8,1161.9 L750.2,1161.9 L750.2,1224.4 L761.5,1224.4" fill="none" stroke="#6a6ad0" stroke-width="1.1"/><text x="695.5" y="1165.3" font-size="9.6" fill="#222" text-anchor="end">1</text><text x="695.5" y="1196.6" font-size="9.6" fill="#222" text-anchor="end">0.5</text><text x="695.5" y="1227.8" font-size="9.6" fill="#222" text-anchor="end">0</text><text x="708.8" y="1235.8" font-size="9.6" fill="#222" text-anchor="middle">-0.5</text><text x="729.7" y="1235.8" font-size="9.6" fill="#222" text-anchor="middle">0</text><text x="750.2" y="1235.8" font-size="9.6" fill="#222" text-anchor="middle">0.5</text></svg>
<div class="title" style="left:155px;top:30.54px;font-size:21.8px;line-height:21.8px">M-Shape intensity distribution for scanning applications</div>
<div class="l" style="left:7.60px;top:199.54px;font-size:13.3px;line-height:13.3px;letter-spacing:-0.021px;">HOLO<span style="color:#eba43c;-webkit-text-stroke:0.5px #eba43c">/</span>OR’s M-Shaper, is a diffractive optical elements (DOE) used to transform a Gaussian laser beam (or other) into a unique 2D M-</div>
<div class="l" style="left:8.60px;top:216.24px;font-size:13.3px;line-height:13.3px;letter-spacing:0.012px;">shaped intensity profile, with sharp edges in a specific work plane.</div>
<div class="box" style="left:8px;top:246px;width:497px;height:160px"></div>
<div class="hdr" style="left:11px;top:249px;width:491px;height:27px"></div>
<div class="l hdrt" style="left:11.00px;top:257.00px;font-size:13px;line-height:13px;width:491.0px;">Features</div>
<div class="dot" style="left:19.6px;top:286.9px;width:4.8px;height:4.8px;background:#1a1a1a"></div>
<div class="l" style="left:32.50px;top:282.64px;font-size:13.3px;line-height:13.3px;letter-spacing:0.158px;">Round M-Shape output profile (before integration)</div>
<div class="dot" style="left:19.6px;top:304.6px;width:4.8px;height:4.8px;background:#1a1a1a"></div>
<div class="l" style="left:32.50px;top:300.34px;font-size:13.3px;line-height:13.3px;letter-spacing:0.171px;">Uniform output intensity profile when integrated over a scanned line</div>
<div class="dot" style="left:19.6px;top:322.3px;width:4.8px;height:4.8px;background:#1a1a1a"></div>
<div class="l" style="left:33.50px;top:318.04px;font-size:13.3px;line-height:13.3px;letter-spacing:-0.223px;">Sharp beam edge</div>
<div class="dot" style="left:19.6px;top:340.0px;width:4.8px;height:4.8px;background:#1a1a1a"></div>
<div class="l" style="left:32.50px;top:335.74px;font-size:13.3px;line-height:13.3px;letter-spacing:0.044px;">High efficiency</div>
<div class="dot" style="left:19.6px;top:357.7px;width:4.8px;height:4.8px;background:#1a1a1a"></div>
<div class="l" style="left:32.50px;top:353.44px;font-size:13.3px;line-height:13.3px;letter-spacing:0.192px;">High power threshold</div>
<div class="dot" style="left:19.6px;top:375.4px;width:4.8px;height:4.8px;background:#1a1a1a"></div>
<div class="l" style="left:33.50px;top:371.14px;font-size:13.3px;line-height:13.3px;letter-spacing:-0.012px;">Wavelengths from UV to IR</div>
<div class="dot" style="left:19.6px;top:393.1px;width:4.8px;height:4.8px;background:#1a1a1a"></div>
<div class="l" style="left:33.50px;top:388.84px;font-size:13.3px;line-height:13.3px;letter-spacing:0.191px;">Optional Ar/Ar coating</div>
<div class="box" style="left:529px;top:246px;width:279px;height:160px"></div>
<div class="hdr" style="left:532px;top:249px;width:273px;height:27px"></div>
<div class="l hdrt" style="left:532.00px;top:256.74px;font-size:13.3px;line-height:13.3px;width:273.0px;">Applications</div>
<div class="dot" style="left:541.6px;top:286.9px;width:4.8px;height:4.8px;background:#1a1a1a"></div>
<div class="l" style="left:554.40px;top:282.64px;font-size:13.3px;line-height:13.3px;letter-spacing:-0.134px;">Laser materials processing:</div>
<div style="position:absolute;left:576.3px;top:305.0px;width:5.8px;height:5.8px;background:#222"></div>
<div class="l" style="left:592.40px;top:300.34px;font-size:13.3px;line-height:13.3px;letter-spacing:0.001px;">welding</div>
<div style="position:absolute;left:576.3px;top:322.7px;width:5.8px;height:5.8px;background:#222"></div>
<div class="l" style="left:591.40px;top:318.04px;font-size:13.3px;line-height:13.3px;letter-spacing:0.270px;">cutting</div>
<div style="position:absolute;left:576.3px;top:340.4px;width:5.8px;height:5.8px;background:#222"></div>
<div class="l" style="left:591.40px;top:335.74px;font-size:13.3px;line-height:13.3px;letter-spacing:-0.132px;">scribing</div>
<div class="dot" style="left:541.6px;top:357.7px;width:4.8px;height:4.8px;background:#1a1a1a"></div>
<div class="l" style="left:555.40px;top:353.44px;font-size:13.3px;line-height:13.3px;letter-spacing:-0.195px;">Strong weld seams (also in Plastics)</div>
<div class="l" style="left:8.30px;top:428.84px;font-size:13.3px;line-height:13.3px;word-spacing:4.740px;">The M-Shaper optical function is not possible by conventional</div>
<div class="l" style="left:8.30px;top:446.44px;font-size:13.3px;line-height:13.3px;word-spacing:2.581px;">reflective or refractive optical elements. It provides higher quality</div>
<div class="l" style="left:8.30px;top:464.04px;font-size:13.3px;line-height:13.3px;word-spacing:9.240px;">of the process &amp; enables more flexibility in the system</div>
<div class="l" style="left:8.30px;top:481.64px;font-size:13.3px;line-height:13.3px;word-spacing:2.857px;">configuration. For example, it allows optimization of the intensity</div>
<div class="l" style="left:8.30px;top:499.24px;font-size:13.3px;line-height:13.3px;word-spacing:4.097px;">profile, and image size, without changing the laser, fiber cable</div>
<div class="l" style="left:8.30px;top:516.64px;font-size:13.3px;line-height:13.3px;letter-spacing:0.173px;">and/or optic head.</div>
<div class="l" style="left:7.30px;top:535.24px;font-size:13.3px;line-height:13.3px;word-spacing:5.010px;">In general, the intensity profile influences the heat distribution</div>
<div class="l" style="left:8.30px;top:552.74px;font-size:13.3px;line-height:13.3px;word-spacing:1.478px;">during laser material processing. The benefits of our optimized M-</div>
<div class="l" style="left:8.30px;top:570.34px;font-size:13.3px;line-height:13.3px;word-spacing:5.533px;">shaped intensity profile, in scanning applications (i.e., for the</div>
<div class="l" style="left:9.30px;top:587.84px;font-size:13.3px;line-height:13.3px;letter-spacing:-0.021px;">welding process) include:</div>
<div class="dot" style="left:12.9px;top:619.6px;width:4.8px;height:4.8px;background:#1a1a1a"></div>
<div class="l" style="left:25.70px;top:615.34px;font-size:13.3px;line-height:13.3px;letter-spacing:0.053px;">Uniform exposure over the scanned line</div>
<div class="dot" style="left:12.9px;top:637.1px;width:4.8px;height:4.8px;background:#1a1a1a"></div>
<div class="l" style="left:25.70px;top:632.89px;font-size:13.3px;line-height:13.3px;letter-spacing:-0.160px;">Ensures a defined edge</div>
<div class="dot" style="left:12.9px;top:654.7px;width:4.8px;height:4.8px;background:#1a1a1a"></div>
<div class="l" style="left:25.70px;top:650.44px;font-size:13.3px;line-height:13.3px;letter-spacing:-0.126px;">Enables very strong weld seams</div>
<div class="title" style="left:8.4px;top:686.56px;font-size:14.5px;line-height:14.5px">Design Considerations:</div>
<div class="l" style="left:25.60px;top:723.94px;font-size:13.3px;line-height:13.3px;">1.</div>
<div class="l" style="left:43.30px;top:723.94px;font-size:13.3px;line-height:13.3px;letter-spacing:0.073px;">In principal, to get a flat-top scanning profile (as shown</div>
<div class="l" style="left:44.30px;top:741.66px;font-size:13.3px;line-height:13.3px;letter-spacing:0.067px;">in Fig.3), optical designer needs to notice the following</div>
<div class="l" style="left:44.30px;top:759.38px;font-size:13.3px;line-height:13.3px;letter-spacing:0.203px;">points:</div>
<div class="dot" style="left:68.7px;top:782.1px;width:4.4px;height:4.4px;border:1.2px solid #2a2a2a"></div>
<div class="l" style="left:80.20px;top:777.10px;font-size:13.3px;line-height:13.3px;letter-spacing:-0.084px;">Use a collimated laser beam with DOE</div>
<div class="dot" style="left:68.7px;top:799.8px;width:4.4px;height:4.4px;border:1.2px solid #2a2a2a"></div>
<div class="l" style="left:80.20px;top:794.82px;font-size:13.3px;line-height:13.3px;letter-spacing:-0.120px;">Place the DOE before the scanning head</div>
<div class="dot" style="left:68.7px;top:817.5px;width:4.4px;height:4.4px;border:1.2px solid #2a2a2a"></div>
<div class="l" style="left:80.20px;top:812.54px;font-size:13.3px;line-height:13.3px;letter-spacing:-0.102px;">Use a scanner lens (i.e. F-Theta lens) in order to</div>
<div class="l" style="left:81.20px;top:830.26px;font-size:13.3px;line-height:13.3px;letter-spacing:-0.015px;">achieve a well-focused spot at a certain distance,</div>
<div class="l" style="left:81.20px;top:847.98px;font-size:13.3px;line-height:13.3px;letter-spacing:-0.147px;">for all scanning angles, as shown in Fig.2.</div>
<div class="dot" style="left:68.7px;top:870.7px;width:4.4px;height:4.4px;border:1.2px solid #2a2a2a"></div>
<div class="l" style="left:81.20px;top:865.70px;font-size:13.3px;line-height:13.3px;letter-spacing:-0.145px;">Scan in straight lines</div>
<div class="l" style="left:26.60px;top:901.94px;font-size:13.3px;line-height:13.3px;">2.</div>
<div class="l" style="left:43.80px;top:901.94px;font-size:13.3px;line-height:13.3px;letter-spacing:0.025px;">Energy distribution can be designed for any non-</div>
<div class="l" style="left:44.80px;top:919.64px;font-size:13.3px;line-height:13.3px;letter-spacing:0.202px;">uniform distribution meeting the application's</div>
<div class="l" style="left:44.80px;top:937.34px;font-size:13.3px;line-height:13.3px;letter-spacing:0.132px;">requirements</div>
<div class="l" style="left:426.20px;top:615.64px;font-size:13.3px;line-height:13.3px;letter-spacing:0.056px;">Figure 1 - Simulated intensity profiles of diffractive M-Shaper</div>
<div class="l" style="left:427.20px;top:632.34px;font-size:13.3px;line-height:13.3px;letter-spacing:0.074px;">laser spots (Without integration). Left fig.=Upper view, Right</div>
<div class="l" style="left:427.20px;top:649.04px;font-size:13.3px;line-height:13.3px;letter-spacing:-0.134px;">fig.=Side view.</div>
<div class="l" style="left:426.20px;top:925.04px;font-size:13.3px;line-height:13.3px;letter-spacing:-0.002px;">Figure 2 - Schematic set-up and integrated (S) intensity profile</div>
<div class="l" style="left:427.20px;top:941.64px;font-size:13.3px;line-height:13.3px;letter-spacing:0.060px;">across scan direction. Left=with M-Shaper,. Right=with flat-top</div>
<div class="l" style="left:427.20px;top:958.24px;font-size:13.3px;line-height:13.3px;letter-spacing:-0.516px;">beam shaper.</div>
<div class="l" style="left:61.20px;top:1288.94px;font-size:13.3px;line-height:13.3px;letter-spacing:0.024px;">Figure 3 - Left picture: Gaussian intensity profile vs. M-Shaped profile, in scanning mode. Right picture: Top-Hat intensity</div>
<div class="l" style="left:331.50px;top:1304.74px;font-size:13.3px;line-height:13.3px;letter-spacing:0.007px;">profiles vs. M-Shaped profile.</div>
</body></html>
